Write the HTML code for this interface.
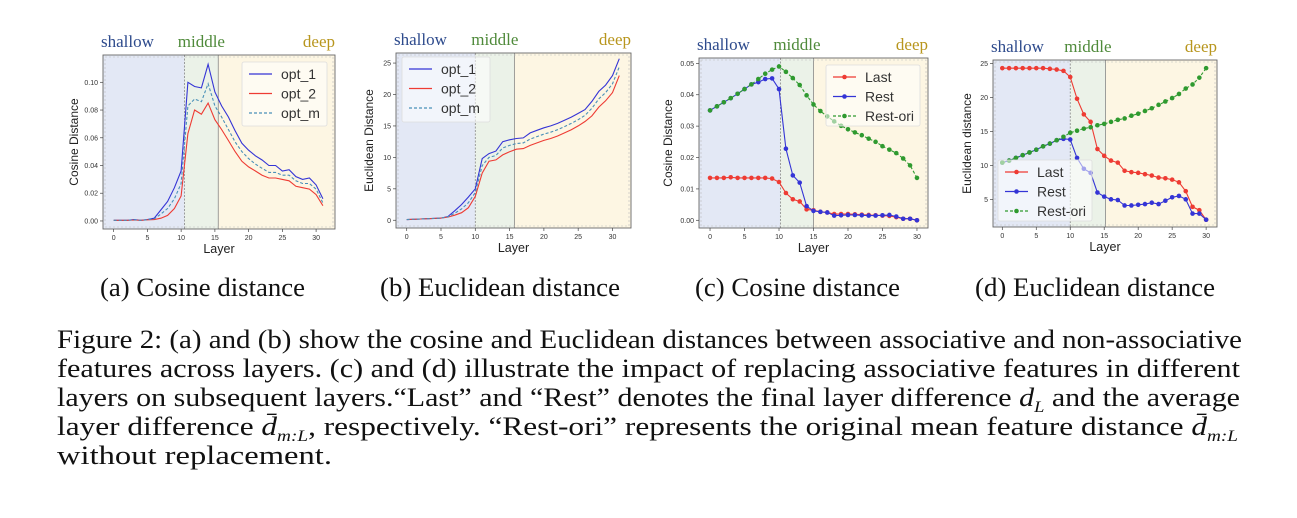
<!DOCTYPE html>
<html><head><meta charset="utf-8">
<style>
body{margin:0;background:#fff;width:1297px;height:518px;overflow:hidden;position:relative;font-family:"Liberation Serif",serif;}
svg{position:absolute;left:0;top:0}
.cap{position:absolute;font-size:26px;line-height:29px;color:#111;white-space:nowrap;transform-origin:0 0}
.ln{position:absolute;left:57px;font-size:26px;line-height:29px;color:#111;white-space:nowrap;transform-origin:0 0}
sub{font-size:16px;line-height:0}
</style></head><body>
<svg id="chart" width="1297" height="270" font-family="Liberation Sans, sans-serif"></svg>
<div class="cap" data-l="100" data-r="305" style="top:273px">(a) Cosine distance</div>
<div class="cap" data-l="380" data-r="620" style="top:273px">(b) Euclidean distance</div>
<div class="cap" data-l="695" data-r="900" style="top:273px">(c) Cosine distance</div>
<div class="cap" data-l="975" data-r="1215" style="top:273px">(d) Euclidean distance</div>
<div>
<div class="ln" data-w="1185" style="top:325px">Figure 2: (a) and (b) show the cosine and Euclidean distances between associative and non-associative</div>
<div class="ln" data-w="1183" style="top:354px">features across layers. (c) and (d) illustrate the impact of replacing associative features in different</div>
<div class="ln" data-w="1183" style="top:383px">layers on subsequent layers.“Last” and “Rest” denotes the final layer difference <i>d<sub>L</sub></i> and the average</div>
<div class="ln" data-w="1181" style="top:412px">layer difference <i>d̄<sub>m:L</sub></i>, respectively. “Rest-ori” represents the original mean feature distance <i>d̄<sub>m:L</sub></i></div>
<div class="ln" data-w="275" style="top:441px">without replacement.</div>
</div>
<script>
const aOpt1=[0.0005,0.0005,0.0005,0.001,0.0005,0.001,0.002,0.008,0.014,0.024,0.036,0.100,0.097,0.096,0.113,0.093,0.083,0.075,0.065,0.056,0.051,0.047,0.044,0.040,0.040,0.036,0.037,0.032,0.030,0.031,0.026,0.016];
const aOpt2=[0.0005,0.0005,0.0005,0.0007,0.0005,0.0008,0.001,0.002,0.004,0.009,0.018,0.063,0.080,0.077,0.085,0.073,0.066,0.058,0.050,0.043,0.039,0.036,0.033,0.031,0.031,0.030,0.029,0.025,0.024,0.023,0.019,0.011];
const aOptM=[0.0005,0.0005,0.0005,0.0008,0.0005,0.0009,0.0015,0.005,0.009,0.016,0.027,0.083,0.088,0.086,0.099,0.083,0.075,0.066,0.057,0.050,0.045,0.041,0.038,0.035,0.035,0.033,0.033,0.029,0.027,0.027,0.023,0.013];
const bOpt1=[0.1,0.15,0.2,0.25,0.3,0.35,0.6,1.5,2.5,3.7,5.0,9.8,10.6,11.0,12.5,12.8,13.0,13.1,13.9,14.3,14.7,15.0,15.4,15.9,16.4,17.0,17.6,18.9,20.5,21.5,23.0,25.7];
const bOpt2=[0.1,0.15,0.2,0.25,0.3,0.35,0.5,0.8,1.2,2.0,3.8,7.5,9.4,9.6,10.4,10.9,11.3,11.4,11.9,12.3,12.7,13.0,13.4,13.9,14.4,15.0,15.7,16.6,18.0,19.0,20.3,23.0];
const bOptM=[0.1,0.15,0.2,0.25,0.3,0.35,0.55,1.1,1.8,2.8,4.4,8.7,10.0,10.3,11.5,11.9,12.2,12.3,12.9,13.3,13.7,14.0,14.4,14.9,15.4,16.0,16.7,17.8,19.3,20.3,21.7,24.4];
const cLast=[0.0135,0.0135,0.0135,0.0137,0.0135,0.0135,0.0135,0.0135,0.0135,0.0133,0.0122,0.0087,0.0067,0.006,0.0035,0.0032,0.0027,0.0025,0.002,0.002,0.002,0.0019,0.0018,0.0017,0.0016,0.0015,0.0014,0.001,0.0005,0.0005,0];
const cRest=[0.035,0.0363,0.0376,0.0389,0.0403,0.0418,0.0433,0.044,0.045,0.0452,0.0418,0.0228,0.0143,0.012,0.0045,0.003,0.0027,0.0025,0.0015,0.0016,0.0017,0.0017,0.0016,0.0015,0.0015,0.0016,0.0017,0.0012,0.0005,0.0005,0];
const cRestOri=[0.035,0.0363,0.0376,0.0389,0.0403,0.0418,0.0433,0.045,0.0467,0.048,0.049,0.0473,0.0453,0.0431,0.0398,0.0369,0.0348,0.0331,0.0315,0.0301,0.029,0.028,0.0271,0.026,0.025,0.0236,0.0225,0.0214,0.0197,0.0175,0.0135];
const dLast=[24.3,24.3,24.3,24.3,24.3,24.3,24.3,24.2,24.1,23.9,23.0,19.8,17.5,16.4,12.4,11.4,10.7,10.4,9.2,9.0,8.9,8.7,8.5,8.2,8.1,7.9,7.5,6.2,3.9,3.4,2.0];
const dRest=[10.4,10.7,11.1,11.5,11.9,12.3,12.8,13.2,13.7,13.9,13.8,11.1,9.5,8.9,6.0,5.4,5.0,4.9,4.1,4.1,4.2,4.3,4.5,4.3,4.8,5.3,5.5,5.0,2.9,2.9,2.0];
const dRestOri=[10.4,10.7,11.1,11.5,11.9,12.3,12.8,13.2,13.7,14.2,14.8,15.1,15.4,15.6,15.9,16.1,16.4,16.7,16.9,17.3,17.6,18.0,18.4,18.9,19.4,19.9,20.5,21.3,21.9,22.9,24.3];
const xTicks=[0,5,10,15,20,25,30];
const aYTicks=[0,0.02,0.04,0.06,0.08,0.10];
const bYTicks=[0,5,10,15,20,25];
const cYTicks=[0,0.01,0.02,0.03,0.04,0.05];
const dYTicks=[5,10,15,20,25];
const optNames=["opt_1","opt_2","opt_m"];
const repNames=["Last","Rest","Rest-ori"];

const NS="http://www.w3.org/2000/svg";
const svg=document.getElementById('chart');
function mk(tag,attrs,parent,text){const e=document.createElementNS(NS,tag);for(const k in attrs)e.setAttribute(k,attrs[k]);if(text!==undefined)e.textContent=text;(parent||svg).appendChild(e);return e;}
const BLUE="#3434d6",RED="#ee3b33",TEAL="#4a90b8",GREEN="#2f9a2f";
function panel(p){
  const g=mk('g',{});
  
  
  const X=v=>p.L+(v-p.xd[0])/(p.xd[1]-p.xd[0])*(p.R-p.L);
  const Y=v=>p.B-(v-p.yd[0])/(p.yd[1]-p.yd[0])*(p.B-p.T);
  const xb1=X(p.bd[0]),xb2=X(p.bd[1]);
  const r1=mk('rect',{x:p.L,y:p.T,width:xb1-p.L,height:p.B-p.T,fill:'#e3e8f5'},g);
  
  
  const r2=mk('rect',{x:xb1,y:p.T,width:xb2-xb1,height:p.B-p.T,fill:'#ebf2e8'},g);
  
  
  const r3=mk('rect',{x:xb2,y:p.T,width:p.R-xb2,height:p.B-p.T,fill:'#fdf6e3'},g);
  
  
  mk('line',{x1:xb1,x2:xb1,y1:p.T,y2:p.B,stroke:'#888','stroke-width':0.8,'stroke-dasharray':'2,1.5'},g);
  mk('line',{x1:xb2,x2:xb2,y1:p.T,y2:p.B,stroke:'#888','stroke-width':0.8},g);
  mk('rect',{x:p.L+2,y:p.T+2,width:p.R-p.L-4,height:p.B-p.T-4,fill:'none',stroke:'#bbb','stroke-width':0.6,'stroke-dasharray':'2,2'},g);
  mk('rect',{x:p.L,y:p.T,width:p.R-p.L,height:p.B-p.T,fill:'none',stroke:'#666','stroke-width':0.9},g);
  const t1=mk('text',{x:p.L-2,y:p.T-8,'font-size':17,fill:'#2d4a8c','font-family':'Liberation Serif, serif'},g,'shallow');
  
  
  const t2=mk('text',{x:(xb1+xb2)/2,y:p.T-8,'font-size':17,fill:'#4f8a3a','text-anchor':'middle','font-family':'Liberation Serif, serif'},g,'middle');
  
  
  const t3=mk('text',{x:p.R,y:p.T-8,'font-size':17,fill:'#b8961e','text-anchor':'end','font-family':'Liberation Serif, serif'},g,'deep');
  
  
  xTicks.forEach(t=>{mk('line',{x1:X(t),x2:X(t),y1:p.B,y2:p.B+3,stroke:'#444','stroke-width':0.7},g);
    const e=mk('text',{x:X(t),y:p.B+11,'font-size':7,fill:'#333','text-anchor':'middle'},g,t);
    
    });
  p.yt.forEach(t=>{mk('line',{x1:p.L-3,x2:p.L,y1:Y(t),y2:Y(t),stroke:'#444','stroke-width':0.7},g);
    const e=mk('text',{x:p.L-5,y:Y(t)+2.5,'font-size':7,fill:'#333','text-anchor':'end'},g,p.fmt(t));
    
    });
  const xl=mk('text',{x:(p.L+p.R)/2,y:p.B+24,'font-size':12.5,fill:'#222','text-anchor':'middle'},g,'Layer');
  
  
  const yl=mk('text',{x:p.ylx,y:(p.T+p.B)/2,'font-size':12,fill:'#222','text-anchor':'middle',transform:`rotate(-90 ${p.ylx} ${(p.T+p.B)/2})`},g,p.ylab);
  
  
  p.series.forEach(s=>{
    const d=s.v.map((v,i)=>(i?'L':'M')+X(i).toFixed(1)+' '+Y(v).toFixed(1)).join(' ');
    const pa=mk('path',{d:d,fill:'none',stroke:s.c,'stroke-width':1.1,'stroke-dasharray':s.dash||''},g);
    
    
    if(p.markers)s.v.forEach((v,i)=>{const c=mk('circle',{cx:X(i),cy:Y(v),r:2.3,fill:s.c},g);
      
      });
  });
  const lg=mk('g',{},g);
  
  
  mk('rect',{x:p.lg[0],y:p.lg[1],width:p.lg[2],height:p.lg[3],fill:'rgba(255,255,255,0.55)',stroke:'#ddd','stroke-width':0.8,rx:2},lg);
  p.series.forEach((s,i)=>{const yy=p.lg[1]+12+i*19.5;
    mk('line',{x1:p.lg[0]+7,x2:p.lg[0]+30,y1:yy,y2:yy,stroke:s.c,'stroke-width':1.2,'stroke-dasharray':s.dash||''},lg);
    if(p.markers)mk('circle',{cx:p.lg[0]+18.5,cy:yy,r:2.3,fill:s.c},lg);
    const e=mk('text',{x:p.lg[0]+39,y:yy+5,'font-size':14,fill:'#333'},lg,s.n);
    
    });
}
panel({name:'panel-a-cosine',L:103,R:335,T:55,B:229,xd:[-1.58,32.8],yd:[-0.0058,0.1197],bd:[10.5,15.5],yt:aYTicks,fmt:t=>t.toFixed(2),ylab:'Cosine Distance',ylx:78,markers:false,lg:[242,62,85,64],
 series:[{n:optNames[0],v:aOpt1,c:BLUE},{n:optNames[1],v:aOpt2,c:RED},{n:optNames[2],v:aOptM,c:TEAL,dash:'3,2'}]});
panel({name:'panel-b-euclidean',L:396,R:631,T:53,B:228,xd:[-1.56,32.7],yd:[-1.23,26.6],bd:[10,15.7],yt:bYTicks,fmt:t=>t,ylab:'Euclidean Distance',ylx:373,markers:false,lg:[402,57,88,65],
 series:[{n:optNames[0],v:bOpt1,c:BLUE},{n:optNames[1],v:bOpt2,c:RED},{n:optNames[2],v:bOptM,c:TEAL,dash:'3,2'}]});
panel({name:'panel-c-cosine',L:699,R:928,T:58,B:228,xd:[-1.6,31.6],yd:[-0.00245,0.0517],bd:[10.2,15],yt:cYTicks,fmt:t=>t.toFixed(2),ylab:'Cosine Distance',ylx:672,markers:true,lg:[826,65,94,61],
 series:[{n:repNames[0],v:cLast,c:RED},{n:repNames[1],v:cRest,c:BLUE},{n:repNames[2],v:cRestOri,c:GREEN,dash:'3,2'}]});
panel({name:'panel-d-euclidean',L:993,R:1217,T:60,B:227,xd:[-1.37,31.6],yd:[0.93,25.5],bd:[10,15.2],yt:dYTicks,fmt:t=>t,ylab:'Euclidean distance',ylx:971,markers:true,lg:[998,160,94,61],
 series:[{n:repNames[0],v:dLast,c:RED},{n:repNames[1],v:dRest,c:BLUE},{n:repNames[2],v:dRestOri,c:GREEN,dash:'3,2'}]});

document.querySelectorAll('.ln').forEach(el=>{const w=el.getBoundingClientRect().width;el.style.transform='scaleX('+(+el.dataset.w/w)+')';});
document.querySelectorAll('.cap').forEach(el=>{const l=+el.dataset.l,r=+el.dataset.r;el.style.left=l+'px';const w=el.getBoundingClientRect().width;el.style.transform='scaleX('+((r-l)/w)+')';});
</script>
</body></html>
